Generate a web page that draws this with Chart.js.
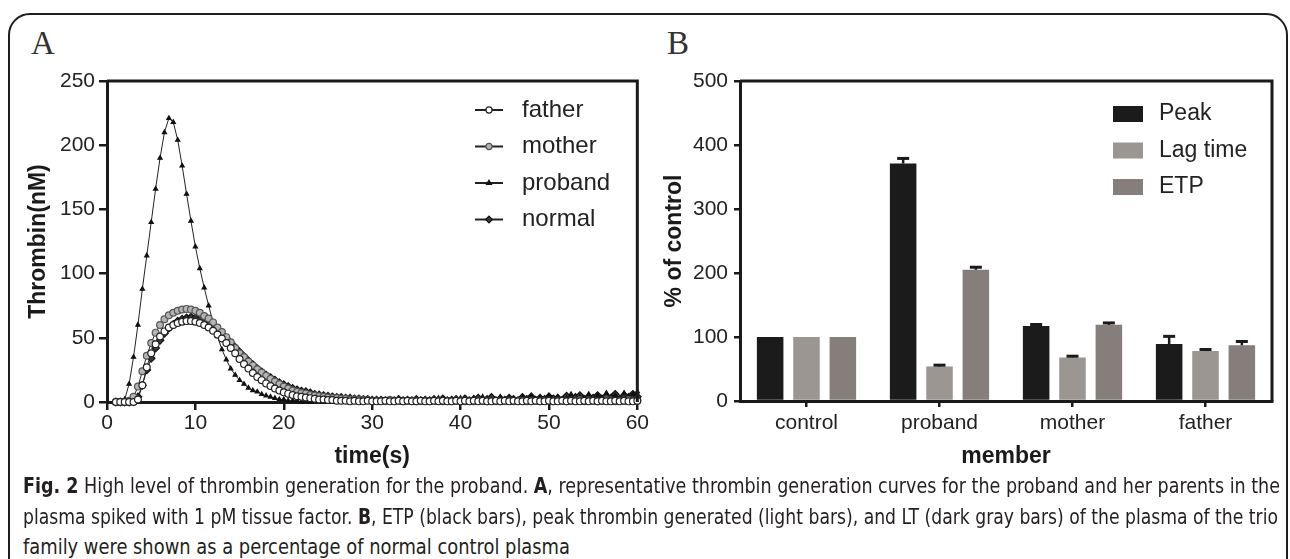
<!DOCTYPE html>
<html>
<head>
<meta charset="utf-8">
<script src="https://cdn.jsdelivr.net/npm/chart.js@4.4.1/dist/chart.umd.min.js"></script>
<style>
  html, body { margin: 0; padding: 0; background: #fff; }
  #page { position: relative; width: 1290px; height: 559px; overflow: hidden; background: #fff; }
  #frame { position: absolute; left: 8px; top: 13px; width: 1276px; height: 600px; border: 2px solid #1e1e1e; border-radius: 22px; }
  #chartA { position: absolute; left: 0; top: 0; }
  #chartB { position: absolute; left: 650px; top: 0; }
  .panel { position: absolute; top: 27px; font-family: "Liberation Serif", "Times New Roman", serif; font-size: 33px; line-height: 33px; color: #333; }
  .cap { position: absolute; left: 23px; white-space: nowrap; font-family: "Liberation Sans Narrow", "DejaVu Sans Condensed", sans-serif; font-size: 21px; line-height: 24px; color: #231f20; transform-origin: 0 50%; }
</style>
</head>
<body>
<div id="page">
  <div id="frame"></div>
  <div class="panel" style="left:31px">A</div>
  <div class="panel" style="left:667px">B</div>
  <canvas id="chartA" width="650" height="475"></canvas>
  <canvas id="chartB" width="640" height="475"></canvas>
  <div class="cap" data-w="1257" style="top:474px"><b>Fig. 2</b> High level of thrombin generation for the proband. <b>A</b>, representative thrombin generation curves for the proband and her parents in the</div>
  <div class="cap" data-w="1255" style="top:505px">plasma spiked with 1 pM tissue factor. <b>B</b>, ETP (black bars), peak thrombin generated (light bars), and LT (dark gray bars) of the plasma of the trio</div>
  <div class="cap" data-w="547" style="top:535px">family were shown as a percentage of normal control plasma</div>
</div>
<script>
// panel A: thrombin generation curves, one value every 0.5 s
const times = [
  1, 1.5, 2, 2.5, 3, 3.5, 4, 4.5, 5, 5.5,
  6, 6.5, 7, 7.5, 8, 8.5, 9, 9.5, 10, 10.5,
  11, 11.5, 12, 12.5, 13, 13.5, 14, 14.5, 15, 15.5,
  16, 16.5, 17, 17.5, 18, 18.5, 19, 19.5, 20, 20.5,
  21, 21.5, 22, 22.5, 23, 23.5, 24, 24.5, 25, 25.5,
  26, 26.5, 27, 27.5, 28, 28.5, 29, 29.5, 30, 30.5,
  31, 31.5, 32, 32.5, 33, 33.5, 34, 34.5, 35, 35.5,
  36, 36.5, 37, 37.5, 38, 38.5, 39, 39.5, 40, 40.5,
  41, 41.5, 42, 42.5, 43, 43.5, 44, 44.5, 45, 45.5,
  46, 46.5, 47, 47.5, 48, 48.5, 49, 49.5, 50, 50.5,
  51, 51.5, 52, 52.5, 53, 53.5, 54, 54.5, 55, 55.5,
  56, 56.5, 57, 57.5, 58, 58.5, 59, 59.5, 60
];

const father = [
  0, 0, 0, 0, 0, 2, 13, 27, 38, 45,
  51, 55, 58, 60, 61.5, 62.5, 63, 63, 62.5, 61.5,
  60, 58, 55.5, 52.5, 49.5, 46, 42, 38, 33.5, 29.5,
  26, 22.5, 19.5, 17, 14.5, 12.5, 10.5, 9, 7.5, 6.5,
  5.5, 4.5, 4, 3.5, 3, 2.5, 2, 2, 1.5, 1.5,
  1, 1, 1, 0.5, 1, 0.5, 0.5, 1, 0.5, 0.5,
  0.5, 1, 0.5, 0.5, 1, 0.5, 1, 0.5, 0.5, 1,
  0.5, 0.5, 1, 0.5, 1, 0.5, 0.5, 1, 0.5, 1,
  0.5, 1, 0.5, 1, 0.5, 0.5, 1, 0.5, 1, 0.5,
  1, 0.5, 0.5, 1, 0.5, 1, 0.5, 0.5, 1, 0.5,
  0.5, 1, 0.5, 1, 0.5, 0.5, 1, 0.5, 1, 0.5,
  1, 0.5, 0.5, 1, 0.5, 1, 0.5, 0.5, 1
];

const mother = [
  0, 0, 0, 1, 4, 12, 24, 36, 46, 54,
  60, 64.5, 67.5, 69.5, 71, 72, 72.5, 72, 71, 69.5,
  67, 65, 62, 58, 54.5, 50.5, 46.5, 42, 38, 35,
  31.5, 28.5, 25.5, 23, 20.5, 18, 16, 14, 12, 10.5,
  9, 8, 7, 6.5, 5.5, 5, 4.5, 4, 3.5, 3,
  3, 2.5, 2.5, 2, 2, 2, 1.5, 1.5, 1, 1,
  1, 1, 1.5, 1, 1, 0.5, 1, 1, 0.5, 1,
  1, 0.5, 1, 1, 0.5, 1, 0.5, 1, 1, 0.5,
  1, 0.5, 1, 1, 0.5, 1, 1, 0.5, 1, 1,
  0.5, 1, 1, 0.5, 1, 1, 0.5, 1, 1, 0.5,
  1, 1, 0.5, 1, 1, 1.5, 0.5, 1, 1, 0.5,
  1, 1.5, 1, 0.5, 1, 1, 1.5, 1, 1
];

const proband = [
  0, 0, 2, 14, 35, 60, 88, 114, 140, 166,
  190, 210, 221, 218, 204, 184, 162, 141, 121, 104,
  89, 75, 62, 51, 41, 33, 26, 21, 17, 14,
  11, 9, 8, 6, 5, 4, 3, 2, 2, 1,
  1, 1, 0, 1, 0, 0, 1, 0, 0, 1,
  0, 1, 0, 0, 1, 0, 0, 1, 0, 1,
  0, 0, 1, 0, 2, 0, 1, 0, 1, 0,
  2, 0, 1, 3, 0, 1, 2, 0, 3, 1,
  0, 3, 1, 4, 0, 2, 1, 4, 0, 3,
  2, 0, 4, 1, 5, 0, 3, 2, 5, 1,
  4, 0, 3, 6, 1, 4, 2, 6, 0, 5,
  3, 7, 1, 5, 2, 7, 3, 6, 8
];

const normal = [
  0, 0, 0, 0, 1, 4, 13, 25, 34, 42,
  48, 53.5, 57.5, 60.5, 63, 64.5, 65.5, 66, 65.5, 64.5,
  63, 61, 58.5, 56, 53, 49.5, 46, 42.5, 39, 35.5,
  32, 29, 26, 23.5, 21, 19, 17, 15, 13.5, 12,
  10.5, 9.5, 8.5, 8, 7, 6, 5.5, 5, 4.5, 4,
  3.5, 3.5, 3, 3, 2.5, 2.5, 2, 2, 1.5, 1.5,
  1.5, 1, 1.5, 1, 2, 1, 1.5, 1, 2, 1,
  1.5, 1, 2, 1, 2.5, 1, 1.5, 2, 1, 2.5,
  1, 2, 3, 1, 2, 3.5, 1, 2.5, 1.5, 3,
  2, 1, 3.5, 2, 4, 1.5, 3, 2, 4, 2.5,
  3, 1.5, 4.5, 2, 3.5, 5, 2, 4, 3, 5,
  2.5, 4.5, 3, 6, 2, 5, 3.5, 6, 4
];

// panel B: % of control
const members = ["control", "proband", "mother", "father"];
const peak = [100, 371, 117, 89];
const peakErr = [0, 8, 2.5, 12];
const lagTime = [100, 54, 68, 78];
const lagErr = [0, 2, 2, 2.5];
const etp = [100, 205, 119, 87];
const etpErr = [0, 4, 3, 6];

const yTicksA = [0, 50, 100, 150, 200, 250];
const xTicksA = [0, 10, 20, 30, 40, 50, 60];
const yTicksB = [0, 100, 200, 300, 400, 500];

const FONT = '"Liberation Sans", Arial, sans-serif';
const INK = "#1a1a1a";

function toPoints(vals) {
  return vals.map((v, i) => ({ x: times[i], y: v }));
}

function drawMarker(ctx, style, x, y, r, fill, stroke) {
  ctx.beginPath();
  if (style === "triangle") {
    ctx.moveTo(x, y - r * 1.3);
    ctx.lineTo(x + r * 1.15, y + r * 0.7);
    ctx.lineTo(x - r * 1.15, y + r * 0.7);
    ctx.closePath();
  } else if (style === "rectRot") {
    ctx.moveTo(x, y - r);
    ctx.lineTo(x + r, y);
    ctx.lineTo(x, y + r);
    ctx.lineTo(x - r, y);
    ctx.closePath();
  } else {
    ctx.arc(x, y, r, 0, Math.PI * 2);
  }
  ctx.fillStyle = fill;
  ctx.fill();
  ctx.lineWidth = 1.2;
  ctx.strokeStyle = stroke;
  ctx.stroke();
}

// box round the plot area (top and right sides)
const frame = {
  id: "frame",
  afterDraw(chart) {
    const { ctx, chartArea: a } = chart;
    ctx.save();
    ctx.strokeStyle = INK;
    ctx.lineWidth = 3;
    ctx.beginPath();
    ctx.moveTo(a.left, a.top);
    ctx.lineTo(a.right, a.top);
    ctx.lineTo(a.right, a.bottom);
    ctx.stroke();
    ctx.restore();
  }
};

const lineLegend = {
  id: "lineLegend",
  afterDraw(chart) {
    const { ctx, chartArea: a } = chart;
    chart.data.datasets.forEach((ds, i) => {
      const y = a.top + 29 + i * 36.5;
      const x0 = a.left + 368;
      ctx.save();
      ctx.strokeStyle = "#222";
      ctx.lineWidth = 2;
      ctx.beginPath();
      ctx.moveTo(x0, y);
      ctx.lineTo(x0 + 28, y);
      ctx.stroke();
      drawMarker(ctx, ds.pointStyle, x0 + 14, y, ds.pointRadius * 0.9, ds.pointBackgroundColor, ds.pointBorderColor);
      ctx.fillStyle = "#222";
      ctx.font = "24px " + FONT;
      ctx.textBaseline = "middle";
      ctx.fillText(ds.label, a.left + 415, y);
      ctx.restore();
    });
  }
};

const boxLegend = {
  id: "boxLegend",
  afterDraw(chart) {
    const { ctx, chartArea: a } = chart;
    chart.data.datasets.forEach((ds, i) => {
      const y = a.top + 33 + i * 36.5;
      ctx.save();
      ctx.fillStyle = ds.backgroundColor;
      ctx.fillRect(a.left + 373, y - 8, 30, 16);
      ctx.fillStyle = "#222";
      ctx.font = "23px " + FONT;
      ctx.textBaseline = "middle";
      ctx.fillText(ds.label, a.left + 419, y);
      ctx.restore();
    });
  }
};

const errorBars = {
  id: "errorBars",
  afterDatasetsDraw(chart) {
    const { ctx } = chart;
    const yScale = chart.scales.y;
    chart.data.datasets.forEach((ds, i) => {
      chart.getDatasetMeta(i).data.forEach((bar, j) => {
        const e = ds.errors[j];
        if (!e) return;
        const top = yScale.getPixelForValue(ds.data[j] + e);
        ctx.save();
        ctx.strokeStyle = INK;
        ctx.lineWidth = 2.5;
        ctx.beginPath();
        ctx.moveTo(bar.x, bar.y);
        ctx.lineTo(bar.x, top);
        ctx.stroke();
        ctx.lineWidth = 3;
        ctx.beginPath();
        ctx.moveTo(bar.x - 6, top);
        ctx.lineTo(bar.x + 6, top);
        ctx.stroke();
        ctx.restore();
      });
    });
  }
};

function axisStyle(tickLen, pad) {
  return {
    ticks: { font: { size: 21, family: FONT }, color: "#222", padding: pad },
    grid: { display: true, drawOnChartArea: false, drawTicks: true, tickLength: tickLen, color: INK, lineWidth: 2.5 },
    border: { display: true, color: INK, width: 3 }
  };
}

function titleStyle(text, pad) {
  return { display: true, text: text, color: INK, font: { size: 23, weight: "bold", family: FONT }, padding: pad };
}

function curve(label, vals, style, radius, fill, stroke) {
  return {
    label: label,
    data: toPoints(vals),
    borderColor: "#222",
    borderWidth: 1,
    pointStyle: style,
    pointRadius: radius,
    pointBackgroundColor: fill,
    pointBorderColor: stroke,
    pointBorderWidth: 1.2,
    clip: 6
  };
}

Chart.defaults.font.family = FONT;

new Chart(document.getElementById("chartA"), {
  type: "line",
  data: {
    datasets: [
      curve("father", father, "circle", 3.4, "#ffffff", "#222"),
      curve("mother", mother, "circle", 3.4, "#b4b4b4", "#555"),
      curve("proband", proband, "triangle", 2.4, "#111", "#111"),
      curve("normal", normal, "rectRot", 3.8, "#3a3a3a", "#111")
    ]
  },
  options: {
    responsive: false,
    animation: false,
    layout: { padding: { top: 81, right: 11, bottom: 0, left: 0 } },
    plugins: { legend: { display: false }, tooltip: { enabled: false } },
    scales: {
      x: {
        type: "linear",
        min: xTicksA[0],
        max: xTicksA[xTicksA.length - 1],
        afterBuildTicks: (s) => { s.ticks = xTicksA.map((v) => ({ value: v })); },
        ...axisStyle(8, 1),
        title: titleStyle("time(s)", { top: 0, bottom: 5 }),
        afterFit: (s) => { s.height = 73; }
      },
      y: {
        min: yTicksA[0],
        max: yTicksA[yTicksA.length - 1],
        afterBuildTicks: (s) => { s.ticks = yTicksA.map((v) => ({ value: v })); },
        ...axisStyle(8, 4),
        title: titleStyle("Thrombin(nM)", { top: 25, bottom: 0 }),
        afterFit: (s) => { s.width = 107; }
      }
    }
  },
  plugins: [frame, lineLegend]
});

new Chart(document.getElementById("chartB"), {
  type: "bar",
  data: {
    labels: members,
    datasets: [
      { label: "Peak", data: peak, errors: peakErr, backgroundColor: "#1b1b1b" },
      { label: "Lag time", data: lagTime, errors: lagErr, backgroundColor: "#9c9693" },
      { label: "ETP", data: etp, errors: etpErr, backgroundColor: "#857e7a" }
    ]
  },
  options: {
    responsive: false,
    animation: false,
    categoryPercentage: 0.82,
    barPercentage: 0.73,
    layout: { padding: { top: 81, right: 18, bottom: 0, left: 0 } },
    plugins: { legend: { display: false }, tooltip: { enabled: false } },
    scales: {
      x: {
        ...axisStyle(6, 4),
        grid: { display: true, drawOnChartArea: false, drawTicks: true, tickLength: 6, offset: false, color: INK, lineWidth: 2.5 },
        title: titleStyle("member", { top: 0, bottom: 5 }),
        afterFit: (s) => { s.height = 74; }
      },
      y: {
        min: yTicksB[0],
        max: yTicksB[yTicksB.length - 1],
        afterBuildTicks: (s) => { s.ticks = yTicksB.map((v) => ({ value: v })); },
        ...axisStyle(6, 6),
        title: titleStyle("% of control", { top: 11, bottom: 0 }),
        afterFit: (s) => { s.width = 90; }
      }
    }
  },
  plugins: [frame, errorBars, boxLegend]
});

// stretch each caption line to the width it has in the figure
document.querySelectorAll(".cap").forEach((el) => {
  const w = el.getBoundingClientRect().width;
  el.style.transform = "scaleX(" + (Number(el.dataset.w) / w) + ")";
});
</script>
</body>
</html>
